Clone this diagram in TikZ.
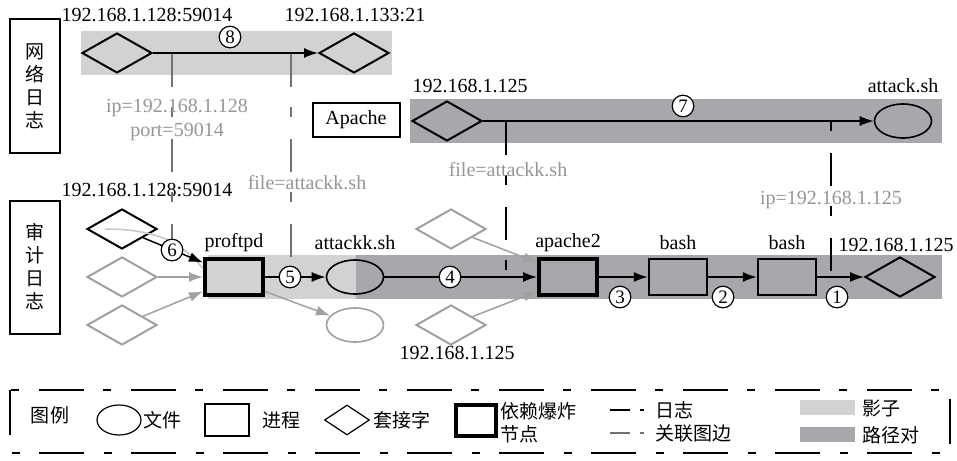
\documentclass[tikz,border=0pt]{standalone}
\usepackage{fontspec}
\setmainfont{Liberation Serif}
\newfontfamily\cjk{Noto Sans CJK SC}
\usetikzlibrary{shapes.geometric,arrows.meta}

\definecolor{shadowgray}{RGB}{209,210,212}
\definecolor{pairgray}{RGB}{167,168,172}
\definecolor{nodegray}{RGB}{160,160,160}
\definecolor{linkgray}{RGB}{115,115,115}
\definecolor{textgray}{RGB}{150,150,150}

\begin{document}
\begin{tikzpicture}[
  x=0.5pt, y=-0.5pt,
  font=\fontsize{10}{12}\selectfont,
  sock/.style={
    diamond,
    draw,
    line width=1pt,
    minimum width=35pt,
    minimum height=20pt,
    inner sep=0pt
  },
  graysock/.style={sock, draw=nodegray},
  file/.style={
    ellipse,
    draw,
    line width=0.8pt,
    minimum width=28.5pt,
    minimum height=17pt,
    inner sep=0pt
  },
  proc/.style={
    rectangle,
    draw,
    line width=1.2pt,
    minimum width=29pt,
    minimum height=18pt,
    inner sep=0pt
  },
  boom/.style={proc, line width=2pt},
  num/.style={
    circle,
    draw,
    fill=white,
    line width=0.6pt,
    inner sep=0pt,
    minimum size=10.8pt,
    font=\fontsize{9.5}{9.5}\selectfont
  },
  tag/.style={
    draw,
    line width=1pt,
    minimum width=25pt,
    minimum height=66.5pt,
    inner sep=0pt,
    align=center,
    font=\cjk\fontsize{9.5}{11.5}\selectfont
  },
  cn/.style={font=\cjk\fontsize{9.5}{11.5}\selectfont, inner sep=0pt},
  note/.style={text=textgray, inner sep=0pt, align=center},
  edge/.style={-{Latex[length=7pt,width=5pt]}, line width=0.75pt},
  grayedge/.style={edge, draw=nodegray},
  logline/.style={line width=1pt, dash pattern=on 16.5pt off 10pt on 5pt off 11pt},
  linkline/.style={logline, draw=linkgray}
]
\useasboundingbox (0,0) rectangle (957,460);

% bands
\fill[shadowgray] (81,31) rectangle (392,75);
\fill[pairgray] (410,99) rectangle (942,143);
\fill[shadowgray] (208,255) rectangle (356,299);
\fill[pairgray] (356,255) rectangle (942,299);

% side tags
\node[tag] at (35,86) (netlog) {网\\络\\日\\志};
\node[tag] at (35,267) (auditlog) {审\\计\\日\\志};

% network log
\node[sock] at (117,53) (srcsock) {};
\node[sock] at (354,53) (dstsock) {};
\node at (147,15) (srclbl) {192.168.1.128:59014};
\node at (355,15) (dstlbl) {192.168.1.133:21};
\draw[edge] (srcsock) -- (dstsock);
\node[num] at (230,37) (e8) {8};
\coordinate (p8a) at (172,54);
\coordinate (p8b) at (291,54);

\node[draw, line width=1pt, minimum width=43.5pt, minimum height=17pt, inner sep=0pt]
  at (356,120) (apache) {Apache};
\node[sock] at (447,121) (websock) {};
\node[file] at (903,121) (attack) {};
\node at (470,86) (weblbl) {192.168.1.125};
\node at (903,86) (attacklbl) {attack.sh};
\draw[edge] (websock) -- (attack);
\node[num] at (683,106) (e7) {7};
\coordinate (p7a) at (506,122);
\coordinate (p7b) at (831,122);

% audit log
\node[sock] at (122,229) (ftpsock) {};
\node[graysock] at (122,277) (gs1) {};
\node[graysock] at (122,325) (gs2) {};
\node[boom, fill=shadowgray] at (234,277) (proftpd) {};
\node[file] at (355,277) (attackk) {};
\node[file, draw=nodegray] at (355,325) (ghost) {};
\node[graysock] at (451,229) (gs3) {};
\node[graysock] at (451,325) (gs4) {};
\node[boom] at (568,277) (apache2) {};
\node[proc] at (678,277) (bash1) {};
\node[proc] at (787,277) (bash2) {};
\node[sock] at (900,277) (cltsock) {};

\node at (147,190) (ftplbl) {192.168.1.128:59014};
\node at (234,243) {proftpd};
\node at (355,243) {attackk.sh};
\node at (568,243) {apache2};
\node at (678,243) {bash};
\node at (787,243) {bash};
\node at (896,245) (cltlbl) {192.168.1.125};
\node at (457,353) (gs4lbl) {192.168.1.125};

\draw[line width=0.75pt, draw=shadowgray!85!gray] ([xshift=-8.5pt]ftpsock.center)
  .. controls +(30pt,0pt) and +(-8pt,10pt) .. (proftpd.165);
\draw[edge] (ftpsock) -- (proftpd.155);
\draw[grayedge] (gs1) -- (proftpd);
\draw[grayedge] (gs2) -- (proftpd.205);
\draw[grayedge] (proftpd.335) -- (ghost);
\draw[grayedge] (gs3) -- (apache2.155);
\draw[grayedge] (gs4) -- (apache2.205);

\draw[edge] (proftpd) -- (attackk);
\draw[edge] (attackk) -- (apache2);
\draw[edge] (apache2) -- (bash1);
\draw[edge] (bash1) -- (bash2);
\draw[edge] (bash2) -- (cltsock);
\coordinate (p4) at (506,277);
\coordinate (p1) at (831,277);

% links between the logs
\draw[linkline] (p8a) -- (172,240) coordinate (e6top);
\draw[linkline] (p8b) -- (291,267) coordinate (e5top);
\draw[logline] (p7a) -- (p4);
\draw[logline, dash phase=27pt] (p7b) -- (p1);

\node[note] at (177,120) {ip=192.168.1.128\\port=59014};
\node[note] at (307,183) {file=attackk.sh};
\node[note] at (508,170) {file=attackk.sh};
\node[note] at (831,200) {ip=192.168.1.125};

\node[num] at (172,250) (e6) {6};
\node[num] at (290,277) (e5) {5};
\node[num] at (450,277) (e4) {4};
\node[num] at (620,297) (e3) {3};
\node[num] at (723,297) (e2) {2};
\node[num] at (837,297) (e1) {1};

% legend
\draw[line width=1pt, dash pattern=on 22.5pt off 10pt on 4pt off 9.5pt]
  (10,390) rectangle (950,453);
\node[cn] at (50,415) (legtitle) {图例};
\node[ellipse, draw, line width=0.6pt, minimum width=22pt, minimum height=15pt, inner sep=0pt]
  at (119,420) (legfile) {};
\node[cn, anchor=west] at (143,420) {文件};
\node[draw, line width=0.6pt, minimum width=22pt, minimum height=16pt, inner sep=0pt]
  at (227,420) (legproc) {};
\node[cn, anchor=west] at (262,420) {进程};
\node[diamond, draw, line width=0.6pt, minimum width=22.5pt, minimum height=15pt, inner sep=0pt]
  at (347,420) (legsock) {};
\node[cn, anchor=west] at (373,420) {套接字};
\node[draw, line width=2pt, minimum width=20pt, minimum height=15.5pt, inner sep=0pt]
  at (476,420) (legboom) {};
\node[cn, anchor=west] at (500,411) {依赖爆炸};
\node[cn, anchor=west] at (500,434) {节点};
\draw[line width=1pt, dash pattern=on 10pt off 5pt on 2pt off 5pt] (610,410) -- (644,410);
\node[cn, anchor=west] at (655,410) {日志};
\draw[line width=1pt, draw=linkgray, dash pattern=on 10pt off 5pt on 2pt off 5pt] (610,433) -- (644,433);
\node[cn, anchor=west] at (655,433) {关联图边};
\fill[shadowgray] (800,400) rectangle (855,415);
\node[cn, anchor=west] at (862,408) {影子};
\fill[pairgray] (800,427) rectangle (855,442);
\node[cn, anchor=west] at (862,435) {路径对};
\end{tikzpicture}
\end{document}
